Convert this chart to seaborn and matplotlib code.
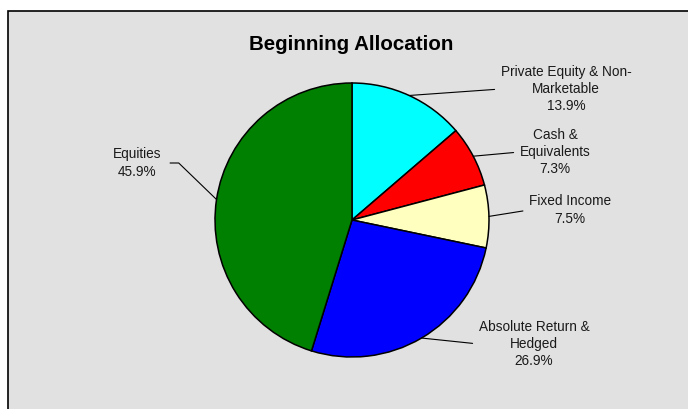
import numpy as np
import matplotlib
matplotlib.use("Agg")
import matplotlib.pyplot as plt
from matplotlib.patches import Rectangle
import seaborn as sns

# Asset classes, clockwise from 12 o'clock
categories = ["Private Equity & Non-\nMarketable", "Cash &\nEquivalents",
              "Fixed Income", "Absolute Return &\nHedged", "Equities"]
shares = [13.9, 7.3, 7.5, 26.9, 45.9]
slice_colors = ["#00FFFF", "#FF0000", "#FFFFC0", "#0000FF", "#008000"]

sns.set_theme(style="white")
plt.rcParams["font.family"] = ["Liberation Sans", "DejaVu Sans"]

W, H = 688, 409
fig = plt.figure(figsize=(W / 100, H / 100), dpi=100)
fig.patch.set_facecolor("white")

# grey chart area with a black border, kept behind the pie
fig.patches.append(Rectangle((8, -10), 700, H - 11 + 10, transform=None,
                             facecolor="#e1e1e1", edgecolor="black",
                             linewidth=1.2, zorder=-5))

# pie axes: centre (352, 220), radius 137 px (y measured from the top)
cx, cy, r = 352, 220, 137
ax = fig.add_axes([(cx - r) / W, (H - cy - r) / H, 2 * r / W, 2 * r / H])
ax.set_zorder(2)
ax.patch.set_visible(False)
palette = sns.color_palette(slice_colors)
wedges, _ = ax.pie(shares, colors=palette, startangle=90, counterclock=False,
                   radius=1.0,
                   wedgeprops=dict(edgecolor="black", linewidth=1.1))
ax.set_xlim(-1, 1)
ax.set_ylim(-1, 1)
ax.set_aspect("equal")
ax.axis("off")

fig.text(351 / W, 1 - 45 / H, "Beginning Allocation", ha="center", va="center",
         fontsize=14.8, fontweight="bold", color="black")

# label block centres (px, from top-left) and which side the leader attaches
label_pos = [(566, 89), (555, 152), (570, 210), (534, 344), (137, 163)]
label_side = [0, 0, 0, 0, 1]

for w, name, val, (tx, ty), side in zip(wedges, categories, shares,
                                        label_pos, label_side):
    mid = np.deg2rad((w.theta1 + w.theta2) / 2)
    edge = (np.cos(mid), np.sin(mid))
    arrow = dict(arrowstyle="-", color="black", linewidth=0.8,
                 shrinkA=2, shrinkB=0, relpos=(side, 0.5))
    if side == 1:
        arrow["connectionstyle"] = "angle,angleA=0,angleB=136,rad=0"
        arrow["shrinkA"] = 4
    ax.annotate(f"{name}\n{val:.1f}%", xy=edge, xycoords="data",
                xytext=(tx, H - ty), textcoords="figure pixels",
                ha="center", va="center", multialignment="center",
                fontsize=9.8, color="#1a1a1a", linespacing=1.3,
                arrowprops=arrow, annotation_clip=False)

fig.savefig("out.png", dpi=100)
